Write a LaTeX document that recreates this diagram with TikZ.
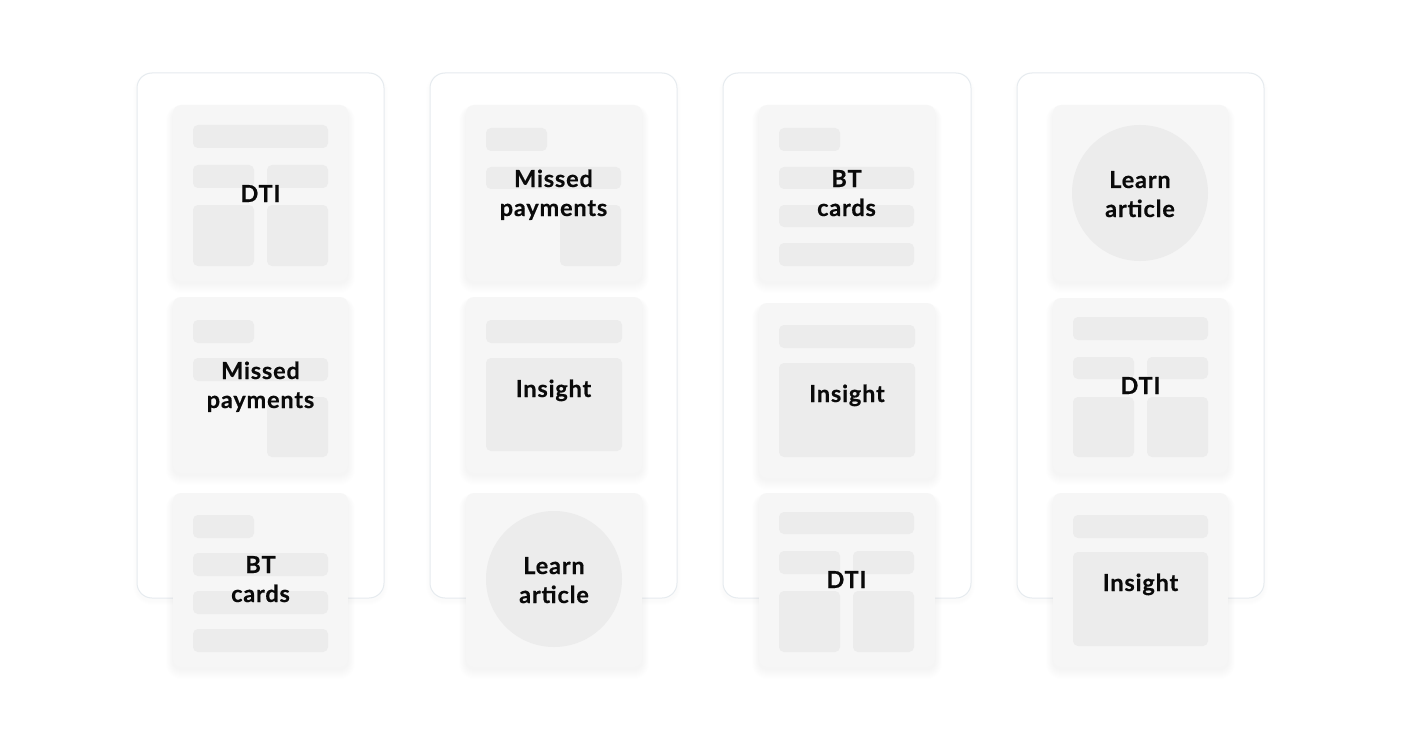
\documentclass[tikz,border=0pt]{standalone}
\usepackage{fontspec}
\newfontfamily\lblfont[LetterSpace=3.5,FakeBold=0.5]{Lato}
\definecolor{cardgray}{RGB}{246,246,246}
\definecolor{elgray}{RGB}{236,236,236}
\definecolor{panelline}{RGB}{230,235,239}
\definecolor{txt}{RGB}{10,10,10}
\newcommand\lbltwo[2]{\begin{tabular}[t]{@{}c@{}}#1\\#2\end{tabular}}
\newcommand\mkcard[5]{%
  \foreach \s in {1,...,10}{\fill[black,opacity=0.0045,rounded corners=8+0.7*\s] (#2-0.7*\s,#3-0.4*\s+4) rectangle (#4+0.7*\s,#5+\s+2);}
  \node[cardbox, minimum width=#4-#2, minimum height=#5-#3] (#1) at ({(#2+#4)/2},{(#3+#5)/2}) {};
}
\newcommand\mkpanel[5]{%
  \foreach \s in {1,...,4}{\fill[black,opacity=0.003,rounded corners=15+\s] (#2-\s,#3-\s+3) rectangle (#4+\s,#5+\s+3);}
  \node[panelbox, minimum width=#4-#2, minimum height=#5-#3] (#1) at ({(#2+#4)/2},{(#3+#5)/2}) {};
}
\tikzset{
  cardbox/.style={rectangle, rounded corners=8pt, fill=cardgray, draw=none, inner sep=0pt, outer sep=0pt},
  panelbox/.style={rectangle, rounded corners=15pt, fill=white, draw=panelline, line width=1pt, inner sep=0pt, outer sep=0pt},
  el/.style={fill=elgray, rounded corners=5pt},
  lbl/.style={font=\lblfont\bfseries\fontsize{23.5}{29}\selectfont, text=txt, inner sep=0pt, anchor=base}
}
\begin{document}
\begin{tikzpicture}[x=1pt,y=-1pt]
\fill[white] (0,0) rectangle (1401,749);
\useasboundingbox (0,0) rectangle (1401,749);
% panels
\mkpanel{p1}{137}{73}{384}{598}
\mkpanel{p2}{430}{73}{677}{598}
\mkpanel{p3}{723}{73}{971}{598}
\mkpanel{p4}{1017}{73}{1264}{598}
% ---------- column 1 ----------
\mkcard{c11}{173}{105}{348}{281}
\fill[el] (193,125) rectangle (328,148);
\fill[el] (193,165) rectangle (254,188);
\fill[el] (267,165) rectangle (328,188);
\fill[el] (193,205) rectangle (254,266);
\fill[el] (267,205) rectangle (328,266);
\node[lbl] (t11) at (260.5,202) {DTI};
\mkcard{c12}{173}{297}{348}{473}
\fill[el] (193,320) rectangle (254,343);
\fill[el] (193,358) rectangle (328,381);
\fill[el] (267,397) rectangle (328,457);
\node[lbl] (t12) at (260.5,379) {\lbltwo{Missed}{payments}};
\mkcard{c13}{173}{493}{348}{667}
\fill[el] (193,515) rectangle (254,538);
\fill[el] (193,553) rectangle (328,576);
\fill[el] (193,591) rectangle (328,614);
\fill[el] (193,629) rectangle (328,652);
\node[lbl] (t13) at (260.5,573) {\lbltwo{BT}{cards}};
% ---------- column 2 ----------
\mkcard{c21}{466}{105}{642}{281}
\fill[el] (486,128) rectangle (547,151);
\fill[el] (486,167) rectangle (621,189);
\fill[el] (560,205) rectangle (621,266);
\node[lbl] (t21) at (553.5,187) {\lbltwo{Missed}{payments}};
\mkcard{c22}{466}{297}{642}{473}
\fill[el] (486,320) rectangle (622,343);
\fill[el] (486,358) rectangle (622,451);
\node[lbl] (t22) at (553.5,397) {Insight};
\mkcard{c23}{466}{493}{642}{667}
\fill[el] (554,579) circle (68);
\node[lbl] (t23) at (554,574) {\lbltwo{Learn}{article}};
% ---------- column 3 ----------
\mkcard{c31}{759}{105}{935}{281}
\fill[el] (779,128) rectangle (840,151);
\fill[el] (779,167) rectangle (914,189);
\fill[el] (779,205) rectangle (914,227);
\fill[el] (779,243) rectangle (914,266);
\node[lbl] (t31) at (846.5,187) {\lbltwo{BT}{cards}};
\mkcard{c32}{759}{303}{935}{478}
\fill[el] (779,325) rectangle (915,348);
\fill[el] (779,363) rectangle (915,457);
\node[lbl] (t32) at (847,402) {Insight};
\mkcard{c33}{759}{493}{935}{667}
\fill[el] (779,512) rectangle (914,534);
\fill[el] (779,551) rectangle (840,574);
\fill[el] (853,551) rectangle (914,574);
\fill[el] (779,591) rectangle (840,652);
\fill[el] (853,591) rectangle (914,652);
\node[lbl] (t33) at (846.5,588) {DTI};
% ---------- column 4 ----------
\mkcard{c41}{1053}{105}{1228}{281}
\fill[el] (1140,193) circle (68);
\node[lbl] (t41) at (1140,188) {\lbltwo{Learn}{article}};
\mkcard{c42}{1053}{298}{1228}{473}
\fill[el] (1073,317) rectangle (1208,340);
\fill[el] (1073,357) rectangle (1134,379);
\fill[el] (1147,357) rectangle (1208,379);
\fill[el] (1073,397) rectangle (1134,457);
\fill[el] (1147,397) rectangle (1208,457);
\node[lbl] (t42) at (1140.5,394) {DTI};
\mkcard{c43}{1053}{493}{1228}{667}
\fill[el] (1073,515) rectangle (1208,538);
\fill[el] (1073,552) rectangle (1208,646);
\node[lbl] (t43) at (1140.5,591) {Insight};
\end{tikzpicture}
\end{document}
